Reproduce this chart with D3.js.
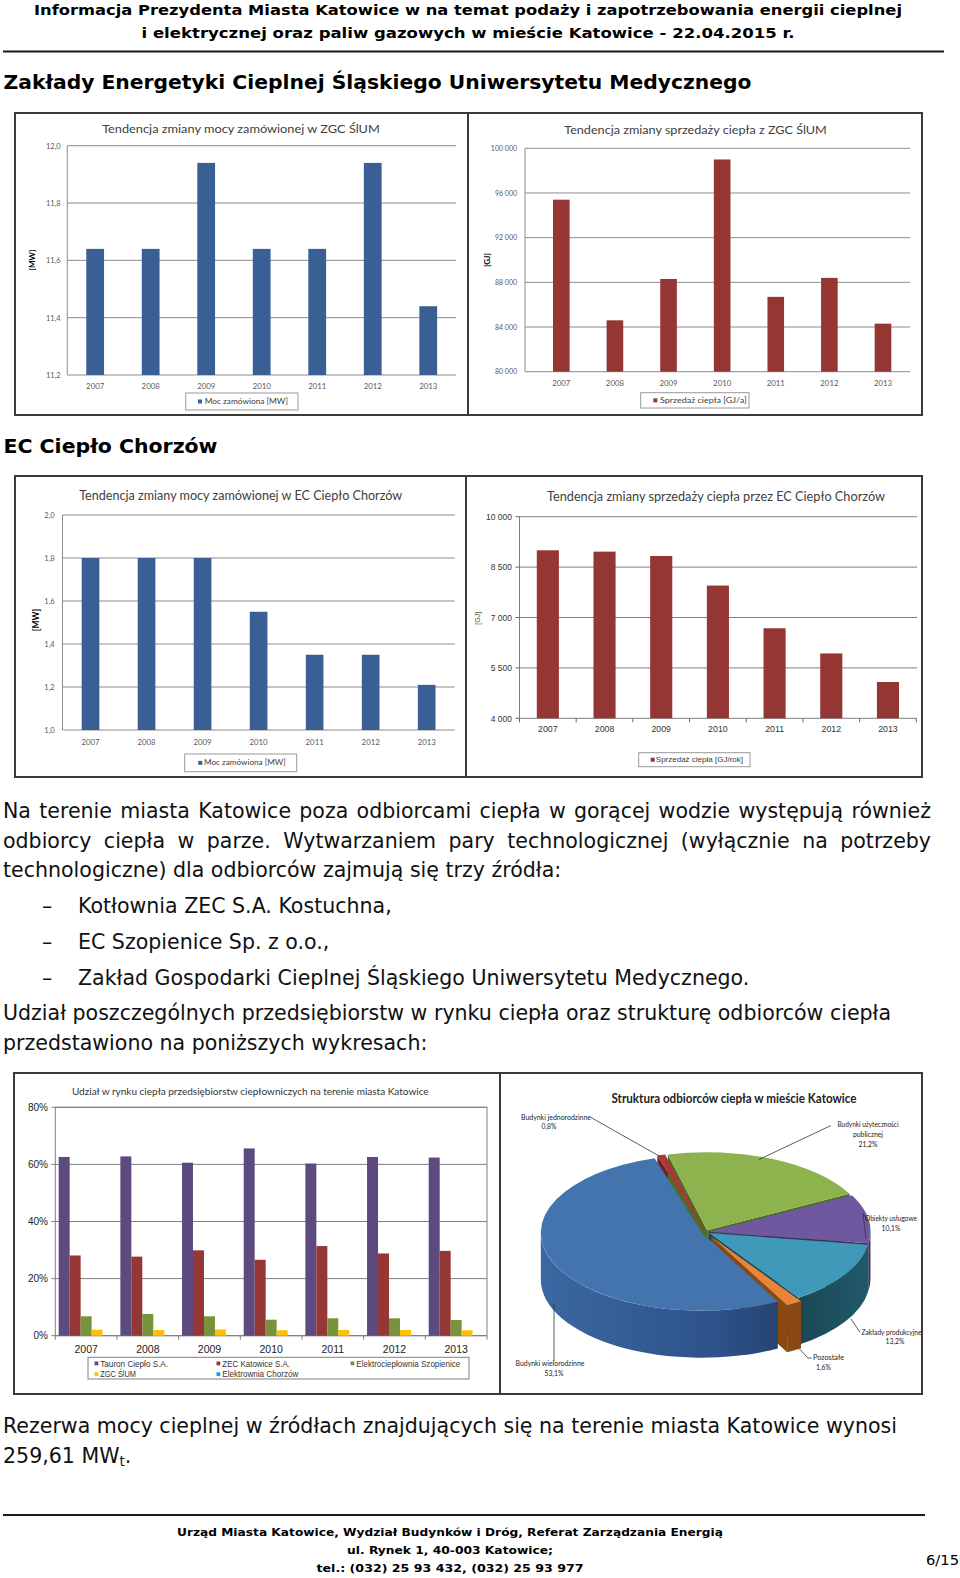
<!DOCTYPE html>
<html><head><meta charset="utf-8">
<script src="https://cdn.jsdelivr.net/npm/d3@7"></script>
<style>body{margin:0;background:#fff}svg{display:block}</style>
</head><body>
<svg id="page" width="960" height="1578"></svg>
<script>
// ---------------- DATA ----------------
const years = ["2007","2008","2009","2010","2011","2012","2013"];
const zgcPower = [11.64,11.64,11.94,11.64,11.64,11.94,11.44];
const zgcPowerTicks = [11.2,11.4,11.6,11.8,12.0];
const zgcPowerTickLabels = ["11,2","11,4","11,6","11,8","12,0"];
const zgcSales = [95400,84600,88300,99000,86700,88400,84300];
const zgcSalesTicks = [80000,84000,88000,92000,96000,100000];
const zgcSalesTickLabels = ["80 000","84 000","88 000","92 000","96 000","100 000"];
const chorzowPower = [1.80,1.80,1.80,1.55,1.35,1.35,1.21];
const chorzowPowerTicks = [1.0,1.2,1.4,1.6,1.8,2.0];
const chorzowPowerTickLabels = ["1,0","1,2","1,4","1,6","1,8","2,0"];
const chorzowSales = [9000,8960,8830,7950,6680,5930,5080];
const chorzowSalesTicks = [4000,5500,7000,8500,10000];
const chorzowSalesTickLabels = ["4 000","5 500","7 000","8 500","10 000"];
const marketSeries = ["Tauron Ciepło S.A.","ZEC Katowice S.A.","Elektrociepłownia Szopienice","ZGC ŚlUM","Elektrownia Chorzów"];
const tauronShare = [62.6,62.8,60.6,65.6,60.3,62.6,62.4];
const zecShare = [28.1,27.7,29.9,26.6,31.4,28.8,29.7];
const szopieniceShare = [6.8,7.6,6.8,5.6,6.1,6.1,5.5];
const zgcShare = [2.1,2.0,2.2,1.9,2.0,2.0,1.9];
const chorzowShare = [0.1,0.1,0.1,0.1,0.1,0.1,0.1];
const shareTicks = [0,20,40,60,80];
const shareTickLabels = ["0%","20%","40%","60%","80%"];
const recipientNames = ["Budynki jednorodzinne","Budynki użyteczności publicznej","Obiekty usługowe","Zakłady produkcyjne","Pozostałe","Budynki wielorodzinne"];
const recipientShares = [0.8,21.2,10.1,13.2,1.6,53.1];
const recipientShareLabels = ["0,8%","21,2%","10,1%","13,2%","1,6%","53,1%"];

// ---------------- HELPERS ----------------
const svg = d3.select("#page");
const fCal = "Lato, 'Open Sans', sans-serif";
const fAr = "'Liberation Sans', Arial, sans-serif";
const fVer = "'DejaVu Sans', Verdana, sans-serif";
function txt(g, x, y, s, o = {}) {
  const t = g.append("text").attr("x", x).attr("y", y).text(s)
    .attr("font-family", o.family || fCal).attr("font-size", o.size || 8)
    .attr("text-anchor", o.anchor || "start").attr("fill", o.fill || "#000");
  if (o.weight) t.attr("font-weight", o.weight);
  if (o.width) t.attr("textLength", o.width).attr("lengthAdjust", "spacingAndGlyphs");
  if (o.rotate) t.attr("transform", `rotate(-90,${x},${y})`);
  return t;
}
function justify(t, w) {
  const L = t.node().getComputedTextLength();
  const n = (t.text().match(/ /g) || []).length;
  if (n) t.attr("word-spacing", (w - L) / n);
}

// ---------------- PAGE TEXT ----------------
txt(svg, 468, 15, "Informacja Prezydenta Miasta Katowice w na temat podaży i zapotrzebowania energii cieplnej", {family: fVer, size: 13.5, weight: "bold", anchor: "middle", width: 868});
txt(svg, 468, 37.5, "i elektrycznej oraz paliw gazowych w mieście Katowice - 22.04.2015 r.", {family: fVer, size: 13.5, weight: "bold", anchor: "middle", width: 653});
svg.append("line").attr("x1", 3).attr("x2", 944).attr("y1", 51.5).attr("y2", 51.5).attr("stroke", "#1a1a1a").attr("stroke-width", 2);
txt(svg, 3.5, 88.5, "Zakłady Energetyki Cieplnej Śląskiego Uniwersytetu Medycznego", {family: fVer, size: 19.5, weight: "bold", width: 748});
txt(svg, 3.5, 452.5, "EC Ciepło Chorzów", {family: fVer, size: 19.5, weight: "bold", width: 214});

// calibrate body font size
const probe = txt(svg, 0, -50, "Udział poszczególnych przedsiębiorstw w rynku ciepła oraz strukturę odbiorców ciepła", {family: fVer, size: 18});
const bodySize = 18 * 889 / probe.node().getComputedTextLength();
probe.remove();
const body = (x, y, s) => txt(svg, x, y, s, {family: fVer, size: bodySize, fill: "#111"});
justify(body(3, 818, "Na terenie miasta Katowice poza odbiorcami ciepła w gorącej wodzie występują również"), 928);
justify(body(3, 848, "odbiorcy ciepła w parze. Wytwarzaniem pary technologicznej (wyłącznie na potrzeby"), 928);
body(3, 876.5, "technologiczne) dla odbiorców zajmują się trzy źródła:");
const bullets = ["Kotłownia ZEC S.A. Kostuchna,", "EC Szopienice Sp. z o.o.,", "Zakład Gospodarki Cieplnej Śląskiego Uniwersytetu Medycznego."];
const bulletY = [913, 949, 984.5];
bullets.forEach((b, i) => { body(42, bulletY[i], "–"); body(78, bulletY[i], b); });
body(3, 1020, "Udział poszczególnych przedsiębiorstw w rynku ciepła oraz strukturę odbiorców ciepła");
body(3, 1049.5, "przedstawiono na poniższych wykresach:");
body(3, 1433, "Rezerwa mocy cieplnej w źródłach znajdujących się na terenie miasta Katowice wynosi");
const last = body(3, 1462.5, "259,61 MW");
last.append("tspan").attr("font-size", bodySize * 0.65).attr("dy", 3).text("t");
last.append("tspan").attr("dy", -3).text(".");
svg.append("line").attr("x1", 3).attr("x2", 925).attr("y1", 1515).attr("y2", 1515).attr("stroke", "#1a1a1a").attr("stroke-width", 2);
txt(svg, 450, 1536, "Urząd Miasta Katowice, Wydział Budynków i Dróg, Referat Zarządzania Energią", {family: fVer, size: 11, weight: "bold", anchor: "middle", width: 546});
txt(svg, 450, 1554, "ul. Rynek 1, 40-003 Katowice;", {family: fVer, size: 11, weight: "bold", anchor: "middle", width: 206});
txt(svg, 450, 1571.5, "tel.: (032) 25 93 432, (032) 25 93 977", {family: fVer, size: 11, weight: "bold", anchor: "middle", width: 267});
txt(svg, 926, 1565, "6/15", {family: fVer, size: 14, width: 33});

// ---------------- BAR CHARTS ----------------
function barChart(c) {
  const g = svg.append("g");
  g.append("rect").attr("x", c.frame[0]).attr("y", c.frame[1])
    .attr("width", c.frame[2] - c.frame[0]).attr("height", c.frame[3] - c.frame[1])
    .attr("fill", "#fff").attr("stroke", "#3a3a3a").attr("stroke-width", 2);
  const y = d3.scaleLinear().domain(c.domain).range([c.bottom, c.top]);
  const x = d3.scaleBand().domain(years).range(c.band).paddingInner(c.pad).paddingOuter(c.pad / 2);
  g.selectAll(null).data(c.ticks).join("line")
    .attr("x1", c.left).attr("x2", c.right).attr("y1", d => y(d)).attr("y2", d => y(d))
    .attr("stroke", c.grid || "#8c8c8c").attr("stroke-width", 1);
  g.append("line").attr("x1", c.left).attr("x2", c.left).attr("y1", c.top).attr("y2", c.bottom)
    .attr("stroke", c.grid || "#8c8c8c");
  if (c.tickMarks) {
    const step = x.step();
    const bounds = years.map(d => x(d) + x.bandwidth() / 2 - step / 2).concat([x(years[6]) + x.bandwidth() / 2 + step / 2]);
    g.selectAll(null).data(bounds).join("line").attr("x1", d => d).attr("x2", d => d)
      .attr("y1", c.bottom).attr("y2", c.bottom + 4).attr("stroke", "#666");
    g.selectAll(null).data(c.ticks).join("line").attr("x1", c.left - 4).attr("x2", c.left)
      .attr("y1", d => y(d)).attr("y2", d => y(d)).attr("stroke", "#666");
  }
  g.selectAll(null).data(c.values).join("rect")
    .attr("x", (d, i) => x(years[i])).attr("y", d => y(d))
    .attr("width", x.bandwidth()).attr("height", d => c.bottom - y(d)).attr("fill", c.color);
  const ya = g.append("g").attr("transform", `translate(${c.yLabelX},0)`)
    .call(d3.axisLeft(y).tickValues(c.ticks).tickFormat((d, i) => c.tickLabels[i]).tickSize(0).tickPadding(0));
  ya.select(".domain").remove();
  ya.selectAll("text").attr("font-family", c.axisFont).attr("font-size", c.ySize).attr("fill", c.labelFill).attr("x", 0);
  const xa = g.append("g").attr("transform", `translate(0,${c.xBase - 0.71 * c.xSize})`)
    .call(d3.axisBottom(x).tickSize(0).tickPadding(0));
  xa.select(".domain").remove();
  xa.selectAll("text").attr("font-family", c.axisFont).attr("font-size", c.xSize).attr("fill", c.labelFill);
  txt(g, c.title[1], c.title[2], c.title[0], {size: c.title[3], anchor: "middle", width: c.title[4], fill: "#404040"});
  txt(g, c.unit[1], c.unit[2], c.unit[0], {size: c.unit[3], anchor: "middle", weight: c.unit[4], rotate: true, fill: c.unit[5] || "#000", family: c.axisFont});
  const L = c.legend;
  g.append("rect").attr("x", L.box[0]).attr("y", L.box[1]).attr("width", L.box[2] - L.box[0]).attr("height", L.box[3] - L.box[1])
    .attr("fill", "#fff").attr("stroke", "#9a9a9a").attr("stroke-width", 1);
  const cy = (L.box[1] + L.box[3]) / 2;
  g.append("rect").attr("x", L.sq).attr("y", cy - 2).attr("width", 4).attr("height", 4).attr("fill", c.color);
  txt(g, L.tx, cy + 2.6, L.text, {size: L.size, width: L.w, fill: "#404040", family: L.family || fCal});
}

barChart({frame: [15, 113, 468, 415], left: 67.3, right: 456, top: 145.7, bottom: 375, band: [67.4, 456], pad: 0.68,
  domain: [11.2, 12.0], ticks: zgcPowerTicks, tickLabels: zgcPowerTickLabels, values: zgcPower, color: "#3a5f94",
  yLabelX: 60.7, ySize: 7.5, xBase: 388.8, xSize: 7.8, axisFont: fCal, labelFill: "#595959",
  title: ["Tendencja zmiany mocy zamówionej w ZGC ŚlUM", 241, 132.6, 12, 277.7],
  unit: ["[MW]", 35, 260, 8, "bold"],
  legend: {box: [185.7, 393, 298, 410], sq: 198, tx: 204.7, text: "Moc zamówiona [MW]", w: 83.3, size: 7.5}});

barChart({frame: [468, 113, 922, 415], left: 525, right: 910, top: 148.3, bottom: 371.7, band: [534.5, 909.8], pad: 0.69,
  domain: [80000, 100000], ticks: zgcSalesTicks, tickLabels: zgcSalesTickLabels, values: zgcSales, color: "#943634",
  yLabelX: 517, ySize: 7, xBase: 385.5, xSize: 7.8, axisFont: fCal, labelFill: "#595959",
  title: ["Tendencja zmiany sprzedaży ciepła z ZGC ŚlUM", 695.5, 134.3, 12, 262.5],
  unit: ["[GJ]", 489.5, 260, 8, "bold"],
  legend: {box: [640.7, 392.7, 749, 408], sq: 653.3, tx: 660, text: "Sprzedaż ciepła [GJ/a]", w: 86.7, size: 7.5}});

barChart({frame: [15, 476, 466, 777], left: 62.5, right: 454.7, top: 515, bottom: 730, band: [62.5, 454.7], pad: 0.685,
  domain: [1, 2], ticks: chorzowPowerTicks, tickLabels: chorzowPowerTickLabels, values: chorzowPower, color: "#3a5f94",
  yLabelX: 54.7, ySize: 7.5, xBase: 744.5, xSize: 7.8, axisFont: fCal, labelFill: "#595959",
  title: ["Tendencja zmiany mocy zamówionej w EC Ciepło Chorzów", 240.7, 499.6, 13, 323],
  unit: ["[MW]", 38.5, 620, 8.5, "bold"],
  legend: {box: [184.7, 754, 296.7, 771.7], sq: 198.3, tx: 204, text: "Moc zamówiona [MW]", w: 81.7, size: 7.8}});

barChart({frame: [466, 476, 922, 777], left: 519.5, right: 917, top: 516.7, bottom: 718.3, band: [519.5, 916.3], pad: 0.61,
  domain: [4000, 10000], ticks: chorzowSalesTicks, tickLabels: chorzowSalesTickLabels, values: chorzowSales, color: "#943634",
  grid: "#7f7f7f", tickMarks: true,
  yLabelX: 512, ySize: 8.5, xBase: 732.3, xSize: 8.8, axisFont: fAr, labelFill: "#333",
  title: ["Tendencja zmiany sprzedaży ciepła przez EC Ciepło Chorzów", 716, 500.6, 13, 338],
  unit: ["[GJ]", 480, 618.3, 7, "normal", "#555"],
  legend: {box: [638.7, 752.7, 750, 766.7], sq: 650.7, tx: 655.8, text: "Sprzedaż ciepła [GJ/rok]", w: 87.2, size: 7.5, family: fAr}});

// ---------------- GROUPED BAR CHART ----------------
(function () {
  const g = svg.append("g");
  g.append("rect").attr("x", 14).attr("y", 1073).attr("width", 486).attr("height", 321)
    .attr("fill", "#fff").attr("stroke", "#3a3a3a").attr("stroke-width", 2);
  const left = 55.3, right = 487, top = 1107.3, bottom = 1335.7;
  const y = d3.scaleLinear().domain([0, 80]).range([bottom, top]);
  const x0 = d3.scaleBand().domain(years).range([left, right]).paddingInner(0.11).paddingOuter(0.055);
  const x1 = d3.scaleBand().domain(marketSeries).range([0, x0.bandwidth()]);
  const colors = ["#5d4a7f", "#953735", "#77933c", "#ffc000", "#14a0dc"];
  const series = [tauronShare, zecShare, szopieniceShare, zgcShare, chorzowShare];
  g.selectAll(null).data(shareTicks).join("line").attr("x1", left).attr("x2", right)
    .attr("y1", d => y(d)).attr("y2", d => y(d)).attr("stroke", "#808080");
  g.append("rect").attr("x", left).attr("y", top).attr("width", right - left).attr("height", bottom - top)
    .attr("fill", "none").attr("stroke", "#808080");
  const step = x0.step();
  const bounds = years.map(d => x0(d) + x0.bandwidth() / 2 - step / 2).concat([right]);
  g.selectAll(null).data(bounds).join("line").attr("x1", d => d).attr("x2", d => d)
    .attr("y1", bottom).attr("y2", bottom + 4).attr("stroke", "#808080");
  g.selectAll(null).data(shareTicks).join("line").attr("x1", left - 4).attr("x2", left)
    .attr("y1", d => y(d)).attr("y2", d => y(d)).attr("stroke", "#808080");
  series.forEach((vals, s) => {
    g.selectAll(null).data(vals).join("rect")
      .attr("x", (d, i) => x0(years[i]) + x1(marketSeries[s])).attr("y", d => y(d))
      .attr("width", x1.bandwidth()).attr("height", d => bottom - y(d)).attr("fill", colors[s]);
  });
  const ya = g.append("g").attr("transform", "translate(48,0)")
    .call(d3.axisLeft(y).tickValues(shareTicks).tickFormat((d, i) => shareTickLabels[i]).tickSize(0).tickPadding(0));
  ya.select(".domain").remove();
  ya.selectAll("text").attr("font-family", fAr).attr("font-size", 10).attr("fill", "#222");
  const xa = g.append("g").attr("transform", `translate(0,${1353 - 0.71 * 10.5})`)
    .call(d3.axisBottom(x0).tickSize(0).tickPadding(0));
  xa.select(".domain").remove();
  xa.selectAll("text").attr("font-family", fAr).attr("font-size", 10.5).attr("fill", "#222");
  txt(g, 250.3, 1094.8, "Udział w rynku ciepła  przedsiębiorstw ciepłowniczych na terenie miasta Katowice", {size: 10, anchor: "middle", width: 356.7, fill: "#333"});
  g.append("rect").attr("x", 88).attr("y", 1357.3).attr("width", 381).attr("height", 21.7)
    .attr("fill", "#fff").attr("stroke", "#808080");
  const legX = [94.5, 216.5, 350.5, 94.5, 216.5];
  const legY = [1363.5, 1363.5, 1363.5, 1374.3, 1374.3];
  const legW = [67.7, 67.7, 104, 35.7, 76];
  marketSeries.forEach((s, i) => {
    g.append("rect").attr("x", legX[i]).attr("y", legY[i] - 2).attr("width", 3.8).attr("height", 3.8).attr("fill", colors[i]);
    txt(g, legX[i] + 5.8, legY[i] + 3, s, {family: fAr, size: 8.5, width: legW[i], fill: "#333"});
  });
})();

// ---------------- 3D PIE ----------------
(function () {
  const g = svg.append("g");
  g.append("rect").attr("x", 500).attr("y", 1073).attr("width", 422).attr("height", 321)
    .attr("fill", "#fff").attr("stroke", "#3a3a3a").attr("stroke-width", 2);
  txt(g, 734, 1102.5, "Struktura odbiorców ciepła w mieście Katowice", {size: 12.5, weight: "bold", anchor: "middle", width: 245, fill: "#222"});
  const defs = svg.append("defs");
  const gradBlue = defs.append("linearGradient").attr("id", "gBlue").attr("gradientUnits", "userSpaceOnUse")
    .attr("x1", 542).attr("x2", 862).attr("y1", 0).attr("y2", 0);
  gradBlue.append("stop").attr("offset", 0).attr("stop-color", "#3b68a2");
  gradBlue.append("stop").attr("offset", 0.55).attr("stop-color", "#2d5289");
  gradBlue.append("stop").attr("offset", 1).attr("stop-color", "#1b3150");
  const gradTeal = defs.append("linearGradient").attr("id", "gTeal").attr("gradientUnits", "userSpaceOnUse")
    .attr("x1", 790).attr("x2", 867).attr("y1", 0).attr("y2", 0);
  gradTeal.append("stop").attr("offset", 0).attr("stop-color", "#1a4552");
  gradTeal.append("stop").attr("offset", 1).attr("stop-color", "#21596a");

  const cx = 705.5, cy = 1232, rx = 161, ry = 78, depth = 47;
  const topCol = ["#a8383a", "#8db24e", "#7058a0", "#3e9ab8", "#e8853a", "#4474ad"];
  const sideCol = ["#6e2222", "#4f6b27", "#3f2f62", "url(#gTeal)", "#8a4812", "url(#gBlue)"];
  const explode = [4, 4, 4, 4, 11, 4];
  const arcs = d3.pie().sort(null).value(d => d)
    .startAngle(-17 * Math.PI / 180).endAngle(343 * Math.PI / 180)(recipientShares);
  const geo = arcs.map((a, i) => {
    const mid = (a.startAngle + a.endAngle) / 2;
    const c = [cx + explode[i] * Math.sin(mid), cy - explode[i] * Math.cos(mid) * ry / rx];
    const P = (ang, dd = 0) => [c[0] + rx * Math.sin(ang), c[1] - ry * Math.cos(ang) + dd];
    return {a0: a.startAngle, a1: a.endAngle, c, P};
  });
  const pt = p => p[0].toFixed(2) + "," + p[1].toFixed(2);
  function faces(i) {
    const s = geo[i];
    const list = [];
    if (Math.sin(s.a0) < 0) list.push(s.a0);
    if (Math.sin(s.a1) > 0) list.push(s.a1);
    list.forEach(a => {
      g.append("path").attr("d", `M${pt(s.c)}L${pt(s.P(a))}L${pt(s.P(a, depth))}L${pt([s.c[0], s.c[1] + depth])}Z`)
        .attr("fill", sideCol[i]);
    });
  }
  function wall(i) {
    const s = geo[i];
    const st = Math.max(s.a0, Math.PI / 2), en = Math.min(s.a1, 3 * Math.PI / 2);
    if (st < en) {
      g.append("path").attr("d", `M${pt(s.P(st))}A${rx},${ry} 0 0 1 ${pt(s.P(en))}L${pt(s.P(en, depth))}A${rx},${ry} 0 0 0 ${pt(s.P(st, depth))}Z`)
        .attr("fill", sideCol[i]);
    }
  }
  [0, 1, 2, 3].forEach(i => { faces(i); wall(i); });
  faces(4);
  faces(5); wall(5);
  wall(4);
  geo.forEach((s, i) => {
    const large = (s.a1 - s.a0) > Math.PI ? 1 : 0;
    g.append("path").attr("d", `M${pt(s.c)}L${pt(s.P(s.a0))}A${rx},${ry} 0 ${large} 1 ${pt(s.P(s.a1))}Z`)
      .attr("fill", topCol[i]);
  });
  const lab = (x, y, s, anchor, w) => txt(g, x, y, s, {size: 6.8, anchor, width: w, fill: "#222"});
  const leader = pts => g.append("path").attr("d", d3.line()(pts)).attr("fill", "none").attr("stroke", "#333").attr("stroke-width", 0.8);
  lab(521, 1119.8, "Budynki jednorodzinne", "start", 70); lab(549, 1128.6, recipientShareLabels[0], "middle");
  leader([[591, 1117.5], [660, 1156.5]]);
  lab(868, 1127.3, "Budynki użyteczności", "middle", 61); lab(868, 1137, "publicznej", "middle"); lab(868, 1146.6, recipientShareLabels[1], "middle");
  leader([[831, 1125.5], [759, 1159.5]]);
  lab(891, 1221.4, "Obiekty usługowe", "middle", 52); lab(891, 1230.8, recipientShareLabels[2], "middle");
  leader([[867, 1218.5], [863, 1213.5], [866, 1239]]);
  lab(861.5, 1334.6, "Zakłady produkcyjne", "start", 60); lab(895, 1343.8, recipientShareLabels[3], "middle");
  leader([[860, 1332.3], [851, 1319]]);
  lab(813, 1360.4, "Pozostałe", "start", 31); lab(823.5, 1369.6, recipientShareLabels[4], "middle");
  leader([[811.5, 1358], [808, 1358], [799, 1348.5]]);
  lab(550, 1366.4, "Budynki wielorodzinne", "middle", 69); lab(554, 1375.6, recipientShareLabels[5], "middle");
  leader([[554, 1361], [554, 1304]]);
})();
</script>
</body></html>
